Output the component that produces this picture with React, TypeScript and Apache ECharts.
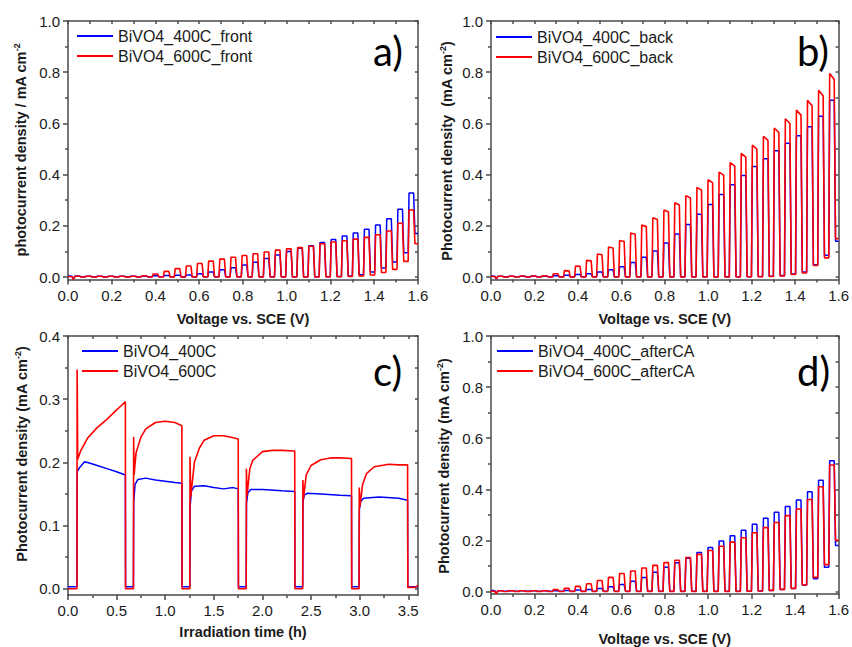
import React, { useEffect, useRef } from "react";
import * as echarts from "echarts";

// ---------- tick values ----------
const voltTicks = [0, 0.2, 0.4, 0.6, 0.8, 1.0, 1.2, 1.4, 1.6];
const voltMinor = [0.1, 0.3, 0.5, 0.7, 0.9, 1.1, 1.3, 1.5];
const curTicks = [0, 0.2, 0.4, 0.6, 0.8, 1.0];
const curMinor = [0.1, 0.3, 0.5, 0.7, 0.9];
const timeTicks = [0, 0.5, 1.0, 1.5, 2.0, 2.5, 3.0, 3.5];
const timeMinor = [0.25, 0.75, 1.25, 1.75, 2.25, 2.75, 3.25];
const caTicks = [0, 0.1, 0.2, 0.3, 0.4];
const caMinor = [0.05, 0.15, 0.25, 0.35];

// ---------- chopped-light LSV: light on / off voltages ----------
const chopOn = [0.028, 0.079, 0.13, 0.181, 0.232, 0.283, 0.334, 0.385, 0.436, 0.486, 0.537, 0.588, 0.639, 0.69, 0.741, 0.792, 0.842, 0.893, 0.944, 0.995, 1.046, 1.097, 1.148, 1.199, 1.25, 1.3, 1.351, 1.402, 1.453, 1.504, 1.555];
const chopOff = [0.055, 0.106, 0.157, 0.208, 0.259, 0.31, 0.361, 0.412, 0.463, 0.513, 0.564, 0.615, 0.666, 0.717, 0.768, 0.819, 0.869, 0.92, 0.971, 1.022, 1.073, 1.124, 1.175, 1.226, 1.277, 1.327, 1.378, 1.429, 1.48, 1.531, 1.582];
const lsvStartV = [0, 0.012, 0.02, 0.024, 0.027];
const lsvEndV = 1.6;

// panel a (front)
const aBlueStart = [0.004, 0.004, 0.001, -0.008, -0.005];
const aRedStart = [0.002, 0.002, 0.0, -0.009, -0.006];
const aBluePeak = [0.004, 0.003, 0.003, 0.003, 0.003, 0.003, 0.004, 0.005, 0.006, 0.007, 0.008, 0.013, 0.02, 0.028, 0.036, 0.047, 0.058, 0.072, 0.086, 0.1, 0.112, 0.122, 0.135, 0.147, 0.16, 0.172, 0.187, 0.203, 0.228, 0.265, 0.328];
const aRedPeak = [0.003, 0.003, 0.003, 0.003, 0.003, 0.003, 0.005, 0.012, 0.022, 0.033, 0.043, 0.053, 0.062, 0.07, 0.077, 0.084, 0.091, 0.098, 0.105, 0.11, 0.115, 0.12, 0.13, 0.137, 0.142, 0.148, 0.155, 0.165, 0.18, 0.21, 0.262];
const aBlueDip = [0.001, 0.001, 0.001, 0.001, 0.001, 0.001, 0.001, 0.001, 0.001, 0.001, 0.001, 0.001, 0.001, 0.001, 0.001, 0.001, 0.001, 0.001, 0.001, 0.001, 0.001, 0.001, 0.001, 0.002, 0.004, 0.009, 0.02, 0.035, 0.059, 0.095, 0.17];
const aRedDip = [0, 0, 0, 0, 0, 0, 0, 0, 0, 0, 0, 0, 0, 0, 0, 0, 0, 0, 0, 0, 0, 0, 0.001, 0.001, 0.002, 0.004, 0.008, 0.018, 0.03, 0.061, 0.13];

// panel b (back)
const bBlueStart = [0.004, 0.004, 0.001, -0.008, -0.005];
const bRedStart = [0.002, 0.002, 0.0, -0.006, -0.004];
const bBluePeak = [0.003, 0.003, 0.003, 0.004, 0.004, 0.005, 0.007, 0.01, 0.013, 0.02, 0.028, 0.04, 0.057, 0.077, 0.102, 0.133, 0.168, 0.205, 0.245, 0.283, 0.322, 0.36, 0.397, 0.432, 0.462, 0.493, 0.523, 0.552, 0.587, 0.628, 0.69];
const bRedPeak = [0.003, 0.003, 0.004, 0.004, 0.005, 0.013, 0.025, 0.043, 0.065, 0.09, 0.117, 0.143, 0.172, 0.203, 0.232, 0.262, 0.29, 0.318, 0.35, 0.38, 0.41, 0.447, 0.483, 0.515, 0.55, 0.582, 0.618, 0.652, 0.69, 0.73, 0.795];
const bBlueDip = [0.001, 0.001, 0.001, 0.001, 0.001, 0.001, 0.001, 0.001, 0.001, 0.001, 0.001, 0.001, 0.001, 0.001, 0.001, 0.001, 0.001, 0.001, 0.001, 0.001, 0.001, 0.001, 0.001, 0.002, 0.003, 0.006, 0.012, 0.02, 0.048, 0.085, 0.14];
const bRedDip = [0, 0, 0, 0, 0, 0, 0, 0, 0, 0, 0, 0, 0, 0, 0, 0, 0, 0, 0, 0, 0, 0, 0.001, 0.001, 0.002, 0.004, 0.01, 0.016, 0.045, 0.075, 0.15];

// panel d (after CA)
const dBlueStart = [0.004, 0.004, 0.001, -0.008, -0.005];
const dRedStart = [0.001, 0.001, -0.002, -0.009, -0.006];
const dBluePeak = [0.003, 0.003, 0.003, 0.003, 0.003, 0.003, 0.004, 0.006, 0.008, 0.012, 0.018, 0.027, 0.04, 0.055, 0.075, 0.095, 0.112, 0.13, 0.152, 0.172, 0.197, 0.218, 0.24, 0.263, 0.287, 0.31, 0.333, 0.358, 0.39, 0.435, 0.512];
const dRedPeak = [0.003, 0.003, 0.003, 0.003, 0.003, 0.007, 0.012, 0.02, 0.03, 0.043, 0.055, 0.07, 0.08, 0.092, 0.102, 0.113, 0.122, 0.133, 0.145, 0.16, 0.177, 0.193, 0.21, 0.23, 0.25, 0.27, 0.297, 0.323, 0.36, 0.41, 0.495];
const dBlueDip = [0.001, 0.001, 0.001, 0.001, 0.001, 0.001, 0.001, 0.001, 0.001, 0.001, 0.001, 0.001, 0.001, 0.001, 0.001, 0.001, 0.001, 0.001, 0.001, 0.001, 0.001, 0.001, 0.001, 0.002, 0.004, 0.008, 0.012, 0.025, 0.05, 0.095, 0.18];
const dRedDip = [0, 0, 0, 0, 0, 0, 0, 0, 0, 0, 0, 0, 0, 0, 0, 0, 0, 0, 0, 0, 0, 0, 0.001, 0.002, 0.004, 0.008, 0.012, 0.025, 0.055, 0.105, 0.2];

// ---------- panel c: chronoamperometry [time h, current] ----------
const cBlue = [
  [0, 0.003], [0.092, 0.003], [0.094, 0.185], [0.12, 0.192], [0.17, 0.201], [0.22, 0.199], [0.3, 0.195], [0.4, 0.19], [0.5, 0.185], [0.59, 0.18], [0.592, 0.003],
  [0.673, 0.003], [0.676, 0.138], [0.69, 0.165], [0.72, 0.173], [0.8, 0.175], [0.9, 0.172], [1.0, 0.17], [1.1, 0.168], [1.171, 0.167], [1.173, 0.003],
  [1.253, 0.003], [1.256, 0.13], [1.27, 0.155], [1.3, 0.162], [1.4, 0.163], [1.5, 0.16], [1.6, 0.158], [1.7, 0.16], [1.751, 0.158], [1.753, 0.003],
  [1.833, 0.003], [1.836, 0.135], [1.85, 0.152], [1.88, 0.157], [2.0, 0.157], [2.2, 0.155], [2.332, 0.154], [2.334, 0.003],
  [2.414, 0.003], [2.417, 0.138], [2.43, 0.148], [2.46, 0.151], [2.6, 0.15], [2.8, 0.148], [2.916, 0.147], [2.918, 0.003],
  [2.994, 0.003], [2.997, 0.125], [3.01, 0.138], [3.04, 0.143], [3.2, 0.145], [3.4, 0.143], [3.493, 0.14], [3.495, 0.003], [3.6, 0.003],
];
const cRed = [
  [0, 0.0], [0.092, 0.0], [0.094, 0.347], [0.1, 0.205], [0.13, 0.218], [0.2, 0.238], [0.3, 0.255], [0.4, 0.268], [0.5, 0.283], [0.55, 0.29], [0.59, 0.296], [0.592, 0.0],
  [0.673, 0.0], [0.675, 0.24], [0.68, 0.18], [0.7, 0.215], [0.75, 0.24], [0.8, 0.253], [0.9, 0.263], [1.0, 0.265], [1.1, 0.263], [1.171, 0.258], [1.173, 0.0],
  [1.253, 0.0], [1.255, 0.209], [1.262, 0.145], [1.3, 0.2], [1.35, 0.222], [1.4, 0.235], [1.5, 0.242], [1.6, 0.242], [1.7, 0.239], [1.751, 0.237], [1.753, 0.0],
  [1.833, 0.0], [1.835, 0.19], [1.842, 0.148], [1.87, 0.19], [1.9, 0.203], [2.0, 0.217], [2.1, 0.219], [2.2, 0.219], [2.332, 0.218], [2.334, 0.0],
  [2.414, 0.0], [2.416, 0.172], [2.422, 0.142], [2.45, 0.18], [2.5, 0.195], [2.6, 0.204], [2.7, 0.207], [2.8, 0.207], [2.916, 0.206], [2.918, 0.0],
  [2.994, 0.0], [2.996, 0.16], [3.003, 0.13], [3.03, 0.165], [3.07, 0.182], [3.15, 0.193], [3.3, 0.197], [3.4, 0.196], [3.493, 0.196], [3.495, 0.002], [3.57, 0.002], [3.6, 0.005],
];

// ---------- helpers ----------
const FONT = "'Liberation Sans', Arial, Helvetica, sans-serif";
const AX = "#4a4a4a";
const TXT = "#1a1a1a";
const BLUE = "#0000ff";
const RED = "#ff0000";

function buildLsv(start: number[], peak: number[], dip: number[], decay: number) {
  const pts: number[][] = lsvStartV.map((v, i) => [v, start[i]]);
  let prev = start[start.length - 1];
  for (let k = 0; k < chopOn.length; k++) {
    pts.push([chopOn[k], prev]);
    pts.push([chopOn[k] + 0.004, peak[k]]);
    pts.push([chopOff[k] - 0.002, peak[k] * decay]);
    pts.push([chopOff[k] + 0.004, dip[k]]);
    prev = dip[k];
  }
  pts.push([lsvEndV, prev]);
  return pts;
}

const grids = [
  { left: 68, top: 21, width: 350, height: 258.6 },
  { left: 491, top: 21, width: 350, height: 258.6 },
  { left: 68, top: 336, width: 350, height: 259 },
  { left: 491, top: 336, width: 350, height: 259 },
];

const panels = [
  { xMin: 0, xMax: 1.6, xMaj: voltTicks, xMin2: voltMinor, yMin: -0.01, yMax: 1.0, yMaj: curTicks, yMin2: curMinor, xName: "Voltage vs. SCE (V)", gap: 32 },
  { xMin: 0, xMax: 1.6, xMaj: voltTicks, xMin2: voltMinor, yMin: -0.01, yMax: 1.0, yMaj: curTicks, yMin2: curMinor, xName: "Voltage vs. SCE (V)", gap: 32 },
  { xMin: 0, xMax: 3.6, xMaj: timeTicks, xMin2: timeMinor, yMin: -0.01, yMax: 0.4, yMaj: caTicks, yMin2: caMinor, xName: "Irradiation time (h)", gap: 29.5 },
  { xMin: 0, xMax: 1.6, xMaj: voltTicks, xMin2: voltMinor, yMin: -0.01, yMax: 1.0, yMaj: curTicks, yMin2: curMinor, xName: "Voltage vs. SCE (V)", gap: 37 },
];

function buildOption() {
  const xAxis: any[] = [];
  const yAxis: any[] = [];
  const line = { lineStyle: { color: AX, width: 1.5 } };
  panels.forEach((p, g) => {
    xAxis.push({
      gridIndex: g, type: "value", min: p.xMin, max: p.xMax, position: "bottom",
      axisLine: { show: true, onZero: false, ...line },
      axisTick: { show: true, customValues: p.xMaj, length: 5, ...line },
      axisLabel: { customValues: p.xMaj, formatter: (v: number) => v.toFixed(1), fontSize: 15, color: TXT, fontFamily: FONT, margin: 8 },
      splitLine: { show: false },
      name: p.xName, nameLocation: "middle", nameGap: p.gap,
      nameTextStyle: { fontSize: 14.5, fontWeight: "bold", color: TXT, fontFamily: FONT },
    });
    xAxis.push({
      gridIndex: g, type: "value", min: p.xMin, max: p.xMax, position: "bottom",
      axisLine: { show: false, onZero: false },
      axisTick: { show: true, customValues: p.xMin2, length: 3, ...line },
      axisLabel: { show: false }, splitLine: { show: false },
    });
    xAxis.push({
      gridIndex: g, type: "value", min: p.xMin, max: p.xMax, position: "top",
      axisLine: { show: true, onZero: false, ...line },
      axisTick: { show: true, inside: true, customValues: [...p.xMaj, ...p.xMin2], length: 3, ...line },
      axisLabel: { show: false }, splitLine: { show: false },
    });
    yAxis.push({
      gridIndex: g, type: "value", min: p.yMin, max: p.yMax, position: "left",
      axisLine: { show: true, onZero: false, ...line },
      axisTick: { show: true, customValues: p.yMaj, length: 5, ...line },
      axisLabel: { customValues: p.yMaj, formatter: (v: number) => v.toFixed(1), fontSize: 15, color: TXT, fontFamily: FONT, margin: 8 },
      splitLine: { show: false },
    });
    yAxis.push({
      gridIndex: g, type: "value", min: p.yMin, max: p.yMax, position: "left",
      axisLine: { show: false, onZero: false },
      axisTick: { show: true, customValues: p.yMin2, length: 3, ...line },
      axisLabel: { show: false }, splitLine: { show: false },
    });
    yAxis.push({
      gridIndex: g, type: "value", min: p.yMin, max: p.yMax, position: "right",
      axisLine: { show: true, onZero: false, ...line },
      axisTick: { show: true, inside: true, customValues: [...p.yMaj, ...p.yMin2], length: 3, ...line },
      axisLabel: { show: false }, splitLine: { show: false },
    });
  });

  const mk = (name: string, g: number, color: string, data: number[][], w: number) => ({
    name, type: "line", xAxisIndex: g * 3, yAxisIndex: g * 3, data, symbol: "none", showSymbol: false,
    lineStyle: { color, width: w }, itemStyle: { color }, clip: true, silent: true,
  });

  const series = [
    mk("BiVO4_400C_front", 0, BLUE, buildLsv(aBlueStart, aBluePeak, aBlueDip, 1), 1.5),
    mk("BiVO4_600C_front", 0, RED, buildLsv(aRedStart, aRedPeak, aRedDip, 1), 1.6),
    mk("BiVO4_400C_back", 1, BLUE, buildLsv(bBlueStart, bBluePeak, bBlueDip, 1), 1.5),
    mk("BiVO4_600C_back", 1, RED, buildLsv(bRedStart, bRedPeak, bRedDip, 0.97), 1.6),
    mk("BiVO4_400C", 2, BLUE, cBlue, 1.5),
    mk("BiVO4_600C", 2, RED, cRed, 1.6),
    mk("BiVO4_400C_afterCA", 3, BLUE, buildLsv(dBlueStart, dBluePeak, dBlueDip, 1), 1.5),
    mk("BiVO4_600C_afterCA", 3, RED, buildLsv(dRedStart, dRedPeak, dRedDip, 1), 1.6),
  ];

  const legendBase = {
    orient: "vertical", icon: "rect", itemWidth: 36, itemHeight: 2, itemGap: 4, padding: 0,
    textStyle: { fontSize: 16, lineHeight: 16, color: TXT, fontFamily: FONT }, selectedMode: false,
  };
  const legend = [
    { ...legendBase, left: 77, top: 28, data: ["BiVO4_400C_front", "BiVO4_600C_front"] },
    { ...legendBase, left: 496, top: 29, data: ["BiVO4_400C_back", "BiVO4_600C_back"] },
    { ...legendBase, left: 82, top: 343, data: ["BiVO4_400C", "BiVO4_600C"] },
    { ...legendBase, left: 497, top: 343, data: ["BiVO4_400C_afterCA", "BiVO4_600C_afterCA"] },
  ];

  const rich = {
    b: { fontSize: 14.5, fontWeight: "bold", fontFamily: FONT, fill: TXT, color: TXT, lineHeight: 18 },
    s: { fontSize: 9, fontWeight: "bold", fontFamily: FONT, fill: TXT, color: TXT, verticalAlign: "top", lineHeight: 18 },
  };
  const yTitle = (x: number, y: number, main: string, tail: string) => ({
    type: "text", x, y, rotation: Math.PI / 2,
    style: {
      text: `{b|${main}}{s|-2}` + (tail ? `{b|${tail}}` : ""), rich,
      align: "center", verticalAlign: "middle", textAlign: "center", textVerticalAlign: "middle",
      fontSize: 14.5, fontWeight: "bold", fontFamily: FONT, fill: TXT,
    },
  });
  const panelLabel = (x: number, y: number, t: string) => ({
    type: "text", x, y,
    style: {
      text: t, fontSize: 40, fontFamily: "Lato, 'Open Sans', sans-serif", fill: "#000",
      align: "left", verticalAlign: "middle", textAlign: "left", textVerticalAlign: "middle",
    },
  });

  const graphic = [
    yTitle(21, 150, "photocurrent density / mA cm", ""),
    yTitle(447, 151, "Photocurrent density  (mA cm", ")"),
    yTitle(22, 454, "Photocurrent density (mA cm", ")"),
    yTitle(444, 466, "Photocurrent density (mA cm", ")"),
    panelLabel(373, 51, "a)"),
    panelLabel(797, 51, "b)"),
    panelLabel(373, 371, "c)"),
    panelLabel(797, 371, "d)"),
  ];

  return {
    animation: false,
    backgroundColor: "#ffffff",
    grid: grids,
    xAxis, yAxis, series, legend, graphic,
  };
}

export default function App() {
  const ref = useRef<HTMLDivElement>(null);
  useEffect(() => {
    const chart = echarts.init(ref.current!, null, { renderer: "svg" });
    chart.setOption(buildOption() as any);
    return () => chart.dispose();
  }, []);
  return (
    <div
      ref={ref}
      style={{ position: "fixed", left: 0, top: 0, width: 852, height: 647, background: "#fff" }}
    />
  );
}
